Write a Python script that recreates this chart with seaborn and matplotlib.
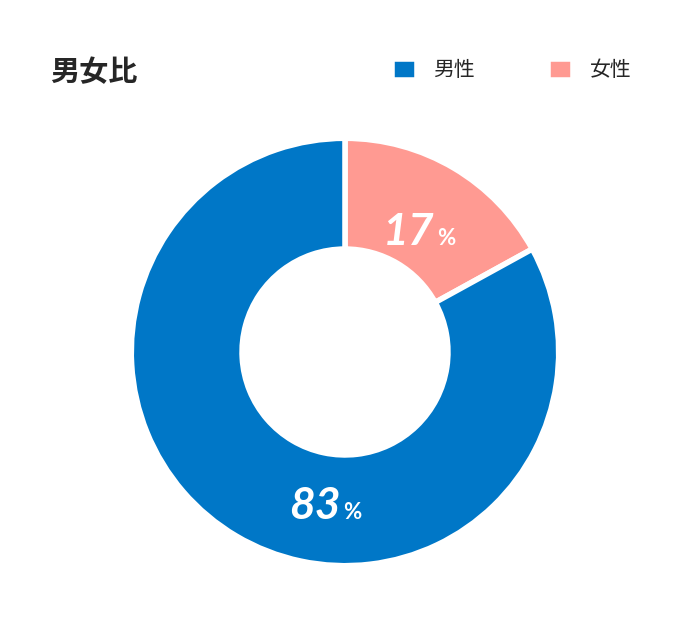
import matplotlib
matplotlib.use("Agg")
import matplotlib.pyplot as plt
import seaborn as sns

labels = ["女性", "男性"]
values = [17, 83]
colors = ["#FF9A92", "#0077C7"]
# label positions (data coords, radius 1 = outer edge)
label_pos = [(0.42, 0.56), (-0.02, -0.72)]

sns.set_theme(style="white")
plt.rcParams["font.family"] = ["Noto Sans CJK JP", "DejaVu Sans"]

fig = plt.figure(figsize=(6.9, 6.19), dpi=100)
cx, cy, r = 345, 352, 218
ax = fig.add_axes([(cx - r) / 690, (619 - cy - r) / 619, 2 * r / 690, 2 * r / 619])
wedges, _ = ax.pie(values, colors=colors, startangle=90, counterclock=False,
                   wedgeprops=dict(width=1 - 105 / 218, edgecolor="white", linewidth=4))
ax.set_xlim(-1.02, 1.02)
ax.set_ylim(-1.02, 1.02)
ax.set_aspect("equal")
ax.axis("off")

for v, (x, y) in zip(values, label_pos):
    ax.text(x, y, str(v), ha="right", va="center", color="white",
            fontsize=32, fontweight="bold", fontstyle="italic", family="Lato")
    ax.text(x + 0.01, y - 0.03, "%", ha="left", va="center", color="white",
            fontsize=16, fontweight="bold", family="Lato")

fig.text(50 / 690, 1 - 72 / 619, "男女比", fontsize=21, fontweight="bold", va="center")
fig.legend([wedges[1], wedges[0]], [labels[1], labels[0]], ncol=2, frameon=False,
           loc="center right", bbox_to_anchor=(650 / 690, 1 - 70 / 619),
           fontsize=15, handlelength=1.2, handleheight=1.2, columnspacing=3.5,
           handletextpad=0.8)

fig.savefig("out.png", dpi=100)
